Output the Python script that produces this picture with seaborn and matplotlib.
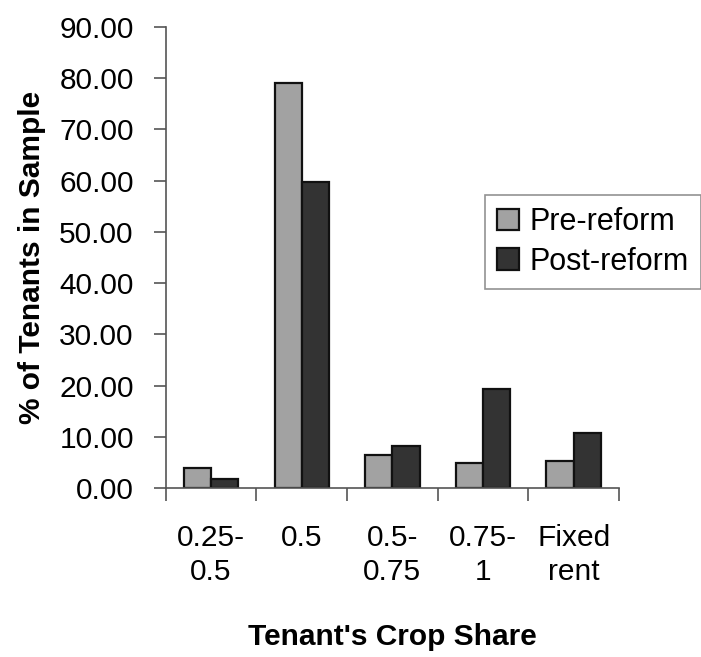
import numpy as np
import pandas as pd
import matplotlib
matplotlib.use("Agg")
import matplotlib.pyplot as plt
import seaborn as sns

# Data
shares = ["0.25-\n0.5", "0.5", "0.5-\n0.75", "0.75-\n1", "Fixed\nrent"]
pre_reform = [4.0, 79.0, 6.4, 4.9, 5.3]
post_reform = [1.8, 59.8, 8.3, 19.3, 10.7]
periods = ["Pre-reform", "Post-reform"]
colors = ["#a2a2a2", "#333333"]

df = pd.DataFrame({
    "share": shares * 2,
    "pct": pre_reform + post_reform,
    "period": [periods[0]] * len(shares) + [periods[1]] * len(shares),
})

sns.set_style("white")
plt.rcParams["font.family"] = ["Liberation Sans", "DejaVu Sans"]
plt.rcParams["text.color"] = "black"
plt.rcParams["xtick.color"] = "black"
plt.rcParams["ytick.color"] = "black"
plt.rcParams["axes.labelcolor"] = "black"
FS = 21.5

fig = plt.figure(figsize=(7.01, 6.57), dpi=100)
ax = fig.add_axes([0.2364, 0.257, 0.6466, 0.702])

sns.barplot(data=df, x="share", y="pct", hue="period", order=shares,
            hue_order=periods, palette=colors, width=0.6,
            edgecolor="#111111", linewidth=1.6, saturation=1, ax=ax)

# Axes styling
ax.set_ylim(0, 90)
ax.set_yticks(np.arange(0, 91, 10))
ax.yaxis.set_major_formatter(matplotlib.ticker.FormatStrFormatter("%.2f"))
ax.set_xlim(-0.5, len(shares) - 0.5)
ax.set_xticks(np.arange(len(shares)))
ax.set_xticklabels(shares, linespacing=1.25)
ax.set_xticks(np.arange(-0.5, len(shares)), minor=True)
ax.tick_params(axis="x", which="major", length=0, pad=26, labelsize=FS)
ax.tick_params(axis="x", which="minor", length=9, width=1.2, color="#555555",
               direction="out", bottom=True)
ax.tick_params(axis="y", length=9, width=1.2, color="#555555", direction="out",
               left=True, pad=14, labelsize=FS)

for side in ["top", "right"]:
    ax.spines[side].set_visible(False)
for side in ["left", "bottom"]:
    ax.spines[side].set_color("#555555")
    ax.spines[side].set_linewidth(1.2)

ax.set_xlabel("Tenant's Crop Share", fontsize=FS, fontweight="bold", va="center")
ax.xaxis.set_label_coords(0.5, -0.323)
ax.set_ylabel("% of Tenants in Sample", fontsize=FS, fontweight="bold", va="center")
ax.yaxis.set_label_coords(-0.295, 0.5)

# Legend
old = ax.get_legend()
handles = old.legend_handles
labels = [t.get_text() for t in old.texts]
old.remove()
leg = ax.legend(handles, labels, loc="upper left",
                bbox_to_anchor=(0.692, 0.703), bbox_transform=fig.transFigure,
                fontsize=FS + 0.5, frameon=True, fancybox=False, shadow=False,
                handlelength=0.7, handleheight=0.7, handletextpad=0.35,
                labelspacing=0.3, borderpad=0.4, borderaxespad=0)
leg.get_frame().set_edgecolor("#777777")
leg.get_frame().set_linewidth(1.2)

fig.savefig("out.png", dpi=100)
